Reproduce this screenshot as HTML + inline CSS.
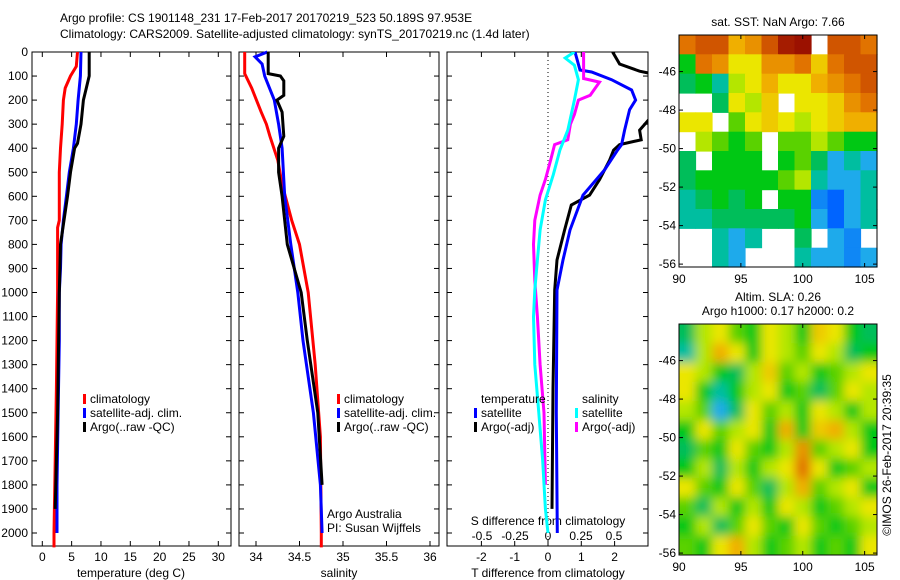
<!DOCTYPE html>
<html><head><meta charset="utf-8"><style>
html,body{margin:0;padding:0;background:#fff;}
svg{display:block;font-family:"Liberation Sans",sans-serif;}
text{font-size:12px;fill:#000;}
</style></head><body>
<svg id="c" width="900" height="580" viewBox="0 0 900 580">
<text x="60" y="22">Argo profile: CS 1901148_231 17-Feb-2017 20170219_523 50.189S 97.953E</text>
<text x="60" y="38">Climatology: CARS2009. Satellite-adjusted climatology: synTS_20170219.nc (1.4d later)</text>
<text x="778" y="26" text-anchor="middle">sat. SST: NaN Argo: 7.66</text>
<text x="778" y="301" text-anchor="middle">Altim. SLA: 0.26</text>
<text x="778" y="315" text-anchor="middle">Argo h1000: 0.17 h2000: 0.2</text>
<text transform="translate(891,455) rotate(-90)" text-anchor="middle">©IMOS 26-Feb-2017 20:39:35</text>
<g id="g"></g>
</svg>
<script>
// ---- data ----
const depthTicks=[0,100,200,300,400,500,600,700,800,900,1000,1100,1200,1300,1400,1500,1600,1700,1800,1900,2000];
const tempTicks=[0,5,10,15,20,25,30];
const salTicks=[34,34.5,35,35.5,36];
const salTickLabels=["34","34.5","35","35.5","36"];
const tdiffTicks=[-2,-1,0,1,2];
const sdiffTicks=[-0.5,-0.25,0,0.25,0.5];
const sdiffLabels=["-0.5","-0.25","0","0.25","0.5"];

const tClimD=[0,60,100,150,200,300,400,500,700,730,1000,1400,1700,2000,2060];
const tClimV=[6.0,5.8,4.8,3.9,3.6,3.4,3.1,2.9,2.9,2.6,2.6,2.4,2.2,2.0,2.0];
const tSatD=[0,100,200,300,400,500,600,700,800,900,1000,1200,1500,1800,2000];
const tSatV=[6.6,6.5,6.1,5.8,5.3,4.6,4.1,3.6,3.2,3.1,2.9,2.9,2.7,2.5,2.5];
const tArgoD=[0,100,150,200,300,380,400,500,600,800,1000,1500,1900];
const tArgoV=[8.0,8.0,7.5,7.0,6.6,6.0,5.5,4.8,4.3,3.1,2.9,2.6,2.2];

const sClimD=[0,90,150,250,300,350,450,550,700,800,1000,1300,1600,2000,2060];
const sClimV=[33.87,33.87,33.95,34.06,34.12,34.16,34.25,34.30,34.41,34.50,34.60,34.68,34.74,34.75,34.75];
const sSatD=[0,20,50,100,200,300,400,600,800,1000,1200,1500,1800,2000];
const sSatV=[34.13,33.99,34.07,34.10,34.21,34.26,34.30,34.33,34.40,34.48,34.54,34.66,34.74,34.76];
const sArgoD=[0,90,100,120,180,200,250,350,400,500,600,700,800,1000,1200,1500,1800];
const sArgoV=[34.14,34.14,34.28,34.32,34.32,34.24,34.30,34.32,34.26,34.26,34.30,34.33,34.36,34.52,34.59,34.71,34.76];

const dTSatD=[0,75,83,115,158,200,240,325,385,408,490,595,740,865,990,1500,2000];
const dTSatV=[0.81,0.96,1.31,1.91,2.51,2.63,2.45,2.30,2.21,2.09,1.70,1.05,0.66,0.45,0.27,0.25,0.28];
const dTArgoD=[0,50,80,90,270,325,365,385,408,450,530,595,636,740,865,990,1400,1900];
const dTArgoV=[1.94,2.15,2.75,3.1,3.1,2.75,2.8,2.15,1.97,1.85,1.55,1.25,0.7,0.5,0.27,0.2,0.15,0.12];
const dSSatD=[0,25,55,115,200,325,408,510,615,740,865,990,1100,1300,1500,1700,1900,2000];
const dSSatV=[0.2,0.13,0.2,0.23,0.2,0.15,0.09,0.04,-0.02,-0.06,-0.08,-0.1,-0.11,-0.1,-0.07,-0.04,-0.02,0];
const dSArgoD=[0,110,125,180,200,260,300,365,385,450,530,595,700,800,950,1100,1300,1500,1800];
const dSArgoV=[0.27,0.27,0.39,0.32,0.23,0.2,0.17,0.15,0.05,0.02,-0.02,-0.06,-0.1,-0.11,-0.1,-0.08,-0.06,-0.03,-0.02];

const lonTicks=[90,95,100,105];
const latTicks=[-46,-48,-50,-52,-54,-56];
const sstGrid=[
[.8,.85,.85,.7,.75,.85,.95,.97,null,.85,.85,.8],
[.45,.8,.75,.6,.6,.75,.75,.8,.65,.8,.85,.85],
[.4,.45,.35,.55,.6,.7,.6,.6,.7,.75,.8,.85],
[null,null,.4,.6,.55,.65,null,.6,.6,.65,.75,.8],
[.6,.6,null,.5,.6,.65,.6,.55,.6,.65,.7,.7],
[null,.55,.5,.45,.5,null,.5,.5,.55,.5,.45,.45],
[.4,null,.45,.45,.45,null,.45,.5,.4,.3,.35,.3],
[.4,.45,.45,.45,.45,.45,.5,.55,.35,.3,.3,.35],
[.35,.4,.45,.4,.45,null,.45,.45,.25,.2,.3,.35],
[.35,.35,.4,.4,.4,.4,.4,.45,.3,.2,.3,.35],
[null,null,.35,.3,.35,null,null,.4,null,.3,.25,null],
[null,null,.35,.3,null,null,null,.35,.3,.3,.25,.3]];
const slaGrid=[
[.4,.55,.6,.5,.45,.6,.55,.45,.65,.6,.45,.4],
[.35,.55,.7,.6,.45,.6,.55,.5,.6,.55,.4,.45],
[.6,.55,.45,.4,.55,.65,.5,.55,.45,.5,.55,.6],
[.6,.45,.35,.45,.55,.6,.45,.5,.4,.5,.6,.55],
[.55,.5,.3,.4,.6,.5,.55,.45,.6,.55,.45,.55],
[.45,.6,.5,.55,.6,.45,.7,.45,.65,.7,.55,.45],
[.4,.5,.45,.6,.5,.45,.55,.75,.5,.55,.6,.45],
[.45,.55,.4,.55,.45,.55,.6,.8,.6,.45,.5,.55],
[.6,.5,.45,.6,.5,.4,.55,.7,.5,.55,.6,.45],
[.5,.4,.55,.45,.55,.45,.6,.55,.45,.5,.55,.6],
[.45,.55,.4,.5,.6,.5,.45,.6,.5,.45,.5,.55],
[.5,.45,.6,.7,.55,.45,.5,.55,.45,.5,.45,.6]];

// ---- drawing ----
const NS='http://www.w3.org/2000/svg';
const G=document.getElementById('g');
function mk(t,a,p){const e=document.createElementNS(NS,t);for(const k in a)e.setAttribute(k,a[k]);(p||G).appendChild(e);return e;}
const Y0=52,Y1=546;
const yD=d=>Y0+d*(533-Y0)/2000;
const xT=v=>42.3+v*(218.3-42.3)/30;
const xS=v=>256+(v-34)*87;
const xDT=v=>548+v*33.3;
const xDS=v=>548+v*132;

function frame(x0,x1,name){
  const r=mk('rect',{x:x0,y:Y0,width:x1-x0,height:Y1-Y0,fill:'none',stroke:'#000','stroke-width':1});
  
  
  depthTicks.forEach(d=>{
    mk('line',{x1:x0,x2:x0+5,y1:yD(d),y2:yD(d),stroke:'#000'});
    mk('line',{x1:x1,x2:x1-5,y1:yD(d),y2:yD(d),stroke:'#000'});
  });
}
function xticks(ticks,fx,labels,y,name){
  ticks.forEach((t,i)=>{
    const x=fx(t);
    mk('line',{x1:x,x2:x,y1:Y1,y2:Y1-5,stroke:'#000'});
    mk('line',{x1:x,x2:x,y1:Y0,y2:Y0+5,stroke:'#000'});
    const e=mk('text',{x:x,y:y,'text-anchor':'middle'});
    e.textContent=labels?labels[i]:String(t);
    
    
  });
}
function line(D,V,fx,col,name,w,parent){
  const pts=D.map((d,i)=>fx(V[i]).toFixed(1)+','+yD(d).toFixed(1)).join(' ');
  const e=mk('polyline',{points:pts,fill:'none',stroke:col,'stroke-width':w||3},parent);
  
  
}
function text(x,y,s,name,anchor){
  const e=mk('text',{x:x,y:y,'text-anchor':anchor||'start'});
  e.textContent=s;
  
  
}

const defs=mk('defs',{});
[[32,231,'c1'],[239,439,'c2'],[447,648,'c3'],[679,877,'cm2']].forEach(([a,b,id])=>{
  const cp=mk('clipPath',{id:id},defs);
  if(id==='cm2')mk('rect',{x:a,y:324,width:b-a,height:231},cp);
  else mk('rect',{x:a,y:Y0,width:b-a,height:Y1-Y0},cp);
});
const flt=mk('filter',{id:'blur',x:'-10%',y:'-10%',width:'120%',height:'120%'},defs);
mk('feGaussianBlur',{stdDeviation:'5'},flt);

// panel 1
frame(32,231,'temperature-panel');
depthTicks.forEach(d=>text(28,yD(d)+4,String(d),'depth-tick-label','end'));
xticks(tempTicks,xT,null,561,'temperature-tick-label');
text(131,577,'temperature (deg C)','temperature-axis-title','middle');
line(tClimD,tClimV,xT,'#f00','temp-climatology-line');
line(tSatD,tSatV,xT,'#00f','temp-satellite-line');
line(tArgoD,tArgoV,xT,'#000','temp-argo-line');
function legend(x,y,items,name){
  items.forEach((it,i)=>{
    const r=mk('rect',{x:x,y:y+i*14-9,width:3,height:10,fill:it[0]});
    
    
    text(x+7,y+i*14,it[1],name+'-label');
  });
}
legend(83,403,[['#f00','climatology'],['#00f','satellite-adj. clim.'],['#000','Argo(..raw -QC)']],'temp-legend');

// panel 2
frame(239,439,'salinity-panel');
xticks(salTicks,xS,salTickLabels,561,'salinity-tick-label');
text(339,577,'salinity','salinity-axis-title','middle');
line(sClimD,sClimV,xS,'#f00','sal-climatology-line');
line(sSatD,sSatV,xS,'#00f','sal-satellite-line');
line(sArgoD,sArgoV,xS,'#000','sal-argo-line');
legend(337,403,[['#f00','climatology'],['#00f','satellite-adj. clim.'],['#000','Argo(..raw -QC)']],'sal-legend');
text(327,518,'Argo Australia','argo-australia-label');
text(327,532,'PI: Susan Wijffels','pi-label');

// panel 3
frame(447,648,'difference-panel');
xticks(tdiffTicks,xDT,null,561,'tdiff-tick-label');
text(548,577,'T difference from climatology','tdiff-axis-title','middle');
sdiffTicks.forEach((t,i)=>text(xDS(t),540,sdiffLabels[i],'sdiff-tick-label','middle'));
text(548,525,'S difference from climatology','sdiff-axis-title','middle');
mk('line',{x1:548,x2:548,y1:Y0,y2:Y1,stroke:'#000','stroke-dasharray':'1,3'});
const cg=mk('g',{'clip-path':'url(#c3)'});
line(dTArgoD,dTArgoV,xDT,'#000','tdiff-argo-line',3,cg);
line(dTSatD,dTSatV,xDT,'#00f','tdiff-satellite-line',3,cg);
line(dSArgoD,dSArgoV,xDS,'#f0f','sdiff-argo-line',3,cg);
line(dSSatD,dSSatV,xDS,'#0ff','sdiff-satellite-line',3,cg);
text(481,403,'temperature','diff-legend-temperature-heading');
legend(474,417,[['#00f','satellite'],['#000','Argo(-adj)']],'tdiff-legend');
text(582,403,'salinity','diff-legend-salinity-heading');
legend(575,417,[['#0ff','satellite'],['#f0f','Argo(-adj)']],'sdiff-legend');

// maps
const cmapStops=[[0,[0,0,140]],[0.2,[0,100,255]],[0.3,[30,170,235]],[0.35,[0,190,160]],[0.4,[0,190,90]],[0.45,[0,200,20]],[0.5,[90,210,0]],[0.55,[180,230,0]],[0.6,[235,230,0]],[0.7,[240,175,0]],[0.8,[225,115,0]],[0.9,[190,55,0]],[1,[140,0,0]]];
function cmap(v){
  for(let i=1;i<cmapStops.length;i++){
    if(v<=cmapStops[i][0]){const a=cmapStops[i-1],b=cmapStops[i];const t=(v-a[0])/(b[0]-a[0]);
      return 'rgb('+a[1].map((c,k)=>Math.round(c+(b[1][k]-c)*t)).join(',')+')';}
  }
  return 'rgb(140,0,0)';
}
function map(grid,x0,y0,x1,y1,latTop,latBot,name,smooth){
  const lonL=90,lonR=106;
  const fx=l=>x0+(l-lonL)*(x1-x0)/(lonR-lonL);
  const fy=l=>y0+(latTop-l)*(y1-y0)/(latTop-latBot);
  const rows=grid.length,cols=grid[0].length;
  const cw=(x1-x0)/cols,ch=(y1-y0)/rows;
  let par=G;
  if(smooth){const outer=mk('g',{'clip-path':'url(#cm2)'});par=mk('g',{filter:'url(#blur)'},outer);}
  grid.forEach((row,i)=>row.forEach((v,j)=>{
    if(v===null)return;
    let rx=x0+j*cw,ry=y0+i*ch,rw=cw+0.6,rh=ch+0.6;
    if(smooth){if(j===0){rx-=10;rw+=10;}if(j===cols-1)rw+=10;if(i===0){ry-=10;rh+=10;}if(i===rows-1)rh+=10;}
    const r=mk('rect',{x:rx.toFixed(1),y:ry.toFixed(1),width:rw.toFixed(1),height:rh.toFixed(1),fill:cmap(v)},par);
    
    
  }));
  const fr=mk('rect',{x:x0,y:y0,width:x1-x0,height:y1-y0,fill:'none',stroke:'#000'});
  
  
  lonTicks.forEach(l=>{const x=fx(l);
    mk('line',{x1:x,x2:x,y1:y1,y2:y1-4,stroke:'#000'});mk('line',{x1:x,x2:x,y1:y0,y2:y0+4,stroke:'#000'});
    text(x,y1+16,String(l),name+'-lon-label','middle');});
  latTicks.forEach(l=>{const y=fy(l);
    mk('line',{x1:x0,x2:x0+4,y1:y,y2:y,stroke:'#000'});mk('line',{x1:x1,x2:x1-4,y1:y,y2:y,stroke:'#000'});
    text(x0-3,y+4,String(l),name+'-lat-label','end');});
}
map(sstGrid,679,35,877,267,-44.1,-56.15,'sst-map',false);
map(slaGrid,679,324,877,555,-44.1,-56.1,'sla-map',true);
</script>
</body></html>
